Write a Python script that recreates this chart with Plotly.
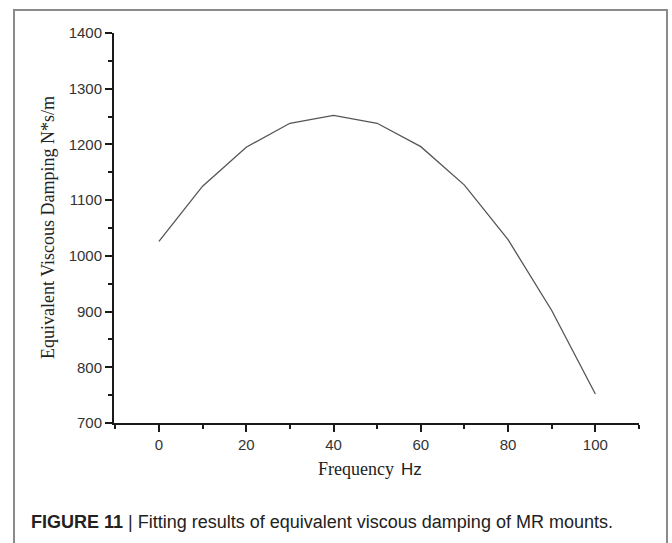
import plotly.graph_objects as go

# Data
frequency = [0, 10, 20, 30, 40, 50, 60, 70, 80, 90, 100]
damping = [1026, 1125, 1195, 1238, 1252, 1238, 1196, 1127, 1029, 902, 752]

x_ticks = [0, 20, 40, 60, 80, 100]
y_ticks = [700, 800, 900, 1000, 1100, 1200, 1300, 1400]

W, H = 672, 543
ML, MR, MT, MB = 114, 33, 33, 120
PW, PH = W - ML - MR, H - MT - MB


def px(x):
    return (x - ML) / PW


def py(y):
    return (H - MB - y) / PH


fig = go.Figure()
fig.add_trace(go.Scatter(
    x=frequency, y=damping, mode="lines",
    line=dict(color="#555555", width=1.3),
    showlegend=False, hoverinfo="skip",
))

axis_common = dict(
    showgrid=False, zeroline=False, showline=True,
    linecolor="#1a1a1a", linewidth=2,
    ticks="outside", ticklen=7, tickwidth=2, tickcolor="#1a1a1a",
    tickfont=dict(family="Liberation Sans, Arial, sans-serif", size=15, color="#333333"),
)

fig.update_xaxes(
    range=[-10.3, 110], tickvals=x_ticks,
    minor=dict(dtick=10, tick0=0, ticks="outside", ticklen=4, tickwidth=2, tickcolor="#1a1a1a"),
    **axis_common,
)
fig.update_yaxes(
    range=[700, 1400], tickvals=y_ticks,
    minor=dict(dtick=50, tick0=0, ticks="outside", ticklen=4, tickwidth=2, tickcolor="#1a1a1a"),
    **axis_common,
)

serif = "Liberation Serif, Times New Roman, serif"
sans = "Liberation Sans, Arial, sans-serif"

fig.add_annotation(
    x=px(48), y=0.5, xref="paper", yref="paper", showarrow=False,
    textangle=-90, xanchor="center", yanchor="middle",
    text="Equivalent Viscous Damping N*s/m",
    font=dict(family=serif, size=18, color="#222222"),
)
fig.add_annotation(
    x=px(396), y=py(469), xref="paper", yref="paper", showarrow=False,
    xanchor="right", yanchor="middle",
    text="Frequency",
    font=dict(family=serif, size=18, color="#222222"),
)
fig.add_annotation(
    x=px(399), y=py(469), xref="paper", yref="paper", showarrow=False,
    xanchor="left", yanchor="middle",
    text="Hz",
    font=dict(family=sans, size=17, color="#222222"),
)
fig.add_annotation(
    x=px(29), y=py(522), xref="paper", yref="paper", showarrow=False,
    xanchor="left", yanchor="middle",
    text="<b>FIGURE 11</b> | Fitting results of equivalent viscous damping of MR mounts.",
    font=dict(family=sans, size=18, color="#222222"),
)

# outer frame of the figure panel
fig.add_shape(
    type="path", xref="paper", yref="paper",
    path=f"M {px(14)} {py(560)} L {px(14)} {py(10)} L {px(667)} {py(10)} L {px(667)} {py(560)}",
    line=dict(color="#8a8a8a", width=2),
)

fig.update_layout(
    width=W, height=H,
    margin=dict(l=ML, r=MR, t=MT, b=MB),
    paper_bgcolor="white", plot_bgcolor="white",
)

fig.write_html("out.html")
